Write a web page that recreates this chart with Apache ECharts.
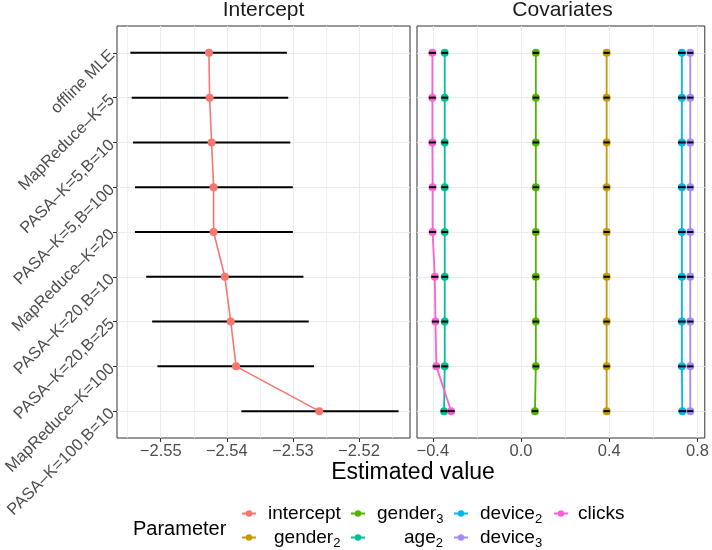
<!DOCTYPE html>
<html><head><meta charset="utf-8">
<script src="https://cdn.jsdelivr.net/npm/echarts@6/dist/echarts.min.js"></script>
<style>html,body{margin:0;padding:0;background:#fff}#c{width:712px;height:550px}</style>
</head><body><div id="c"></div>
<script>
// ---- data ----
const methods = ['offline MLE','MapReduce–K=5','PASA–K=5,B=10','PASA–K=5,B=100','MapReduce–K=20','PASA–K=20,B=10','PASA–K=20,B=25','MapReduce–K=100','PASA–K=100,B=10'];
const rows = [1,2,3,4,5,6,7,8,9];
const interceptEst = [-2.5427,-2.5426,-2.5423,-2.5420,-2.5420,-2.5403,-2.5394,-2.5386,-2.5260];
const interceptLo  = [-2.5546,-2.5544,-2.5542,-2.5539,-2.5539,-2.5522,-2.5513,-2.5505,-2.5378];
const interceptHi  = [-2.5309,-2.5307,-2.5304,-2.5300,-2.5300,-2.5284,-2.5276,-2.5268,-2.5140];
const gender2Est = [0.388,0.388,0.388,0.388,0.388,0.388,0.388,0.388,0.388];
const gender3Est = [0.067,0.067,0.067,0.067,0.067,0.067,0.067,0.067,0.063];
const age2Est    = [-0.346,-0.346,-0.346,-0.346,-0.346,-0.346,-0.346,-0.346,-0.349];
const device2Est = [0.729,0.729,0.729,0.729,0.729,0.729,0.729,0.729,0.731];
const device3Est = [0.767,0.767,0.767,0.767,0.767,0.767,0.767,0.767,0.767];
const clicksEst  = [-0.402,-0.402,-0.402,-0.401,-0.401,-0.391,-0.388,-0.384,-0.317];
// half-widths of the (tiny) confidence intervals of the covariates
const covHalfWidth = {gender2:0.014, gender3:0.014, age2:0.015, device2:0.017, device3:0.014, clicks:0.016};
const leftTicks  = [-2.55,-2.54,-2.53,-2.52];
const leftMinor  = [-2.555,-2.545,-2.535,-2.525,-2.515];
const rightTicks = [-0.4,0.0,0.4,0.8];
const rightMinor = [-0.2,0.2,0.6];

const colors = {intercept:'#F8766D', gender2:'#C49A00', gender3:'#53B400', age2:'#00C094', device2:'#00B6EB', device3:'#A58AFF', clicks:'#FB61D7'};
const covariates = [
  ['gender2', gender2Est], ['gender3', gender3Est], ['age2', age2Est],
  ['device2', device2Est], ['device3', device3Est], ['clicks', clicksEst]
];

function fmtNum(d){ return v => (v < 0 ? '\u2212' : '') + Math.abs(v).toFixed(d); }
function renderBar(params, api){
  const y = api.value(2);
  const a = api.coord([api.value(0), y]);
  const b = api.coord([api.value(1), y]);
  return {type:'line', shape:{x1:a[0], y1:a[1], x2:b[0], y2:b[1]}, style:{stroke:'#000', lineWidth:2}};
}

const gridLine = {show:true, lineStyle:{color:'#EBEBEB', width:1}};
const minorLine = {show:true, lineStyle:{color:'#EDEDED', width:0.8}};
const tickStyle = {length:4, lineStyle:{color:'#333333', width:1}};
const labelStyle = {fontSize:16.5, color:'#4D4D4D', fontFamily:'Liberation Sans, Arial, sans-serif'};

function xAxes(grid, min, max, ticks, minor, dec){
  return [
    {type:'value', gridIndex:grid, min:min, max:max, position:'bottom',
     axisLine:{show:false},
     axisTick:Object.assign({show:true, customValues:ticks}, tickStyle),
     axisLabel:Object.assign({customValues:ticks, formatter:fmtNum(dec), margin:5}, labelStyle),
     splitLine:gridLine},
    {type:'value', gridIndex:grid, min:min, max:max, position:'top',
     axisLine:{show:false}, axisTick:{show:false, customValues:minor},
     axisLabel:{show:false, customValues:minor}, splitLine:minorLine}
  ];
}

const series = [];
series.push({type:'custom', name:'intercept CI', xAxisIndex:0, yAxisIndex:0, z:1,
  renderItem:renderBar, encode:{x:[0,1], y:2}, silent:true,
  data: rows.map((r,i)=>[interceptLo[i], interceptHi[i], r])});
series.push({type:'line', name:'intercept', xAxisIndex:0, yAxisIndex:0, z:3,
  symbol:'circle', symbolSize:8, color:colors.intercept, lineStyle:{width:1.6},
  data: rows.map((r,i)=>[interceptEst[i], r])});
covariates.forEach(([name, vals])=>{
  series.push({type:'line', name:name, xAxisIndex:2, yAxisIndex:1, z:2,
    symbol:'circle', symbolSize:8, color:colors[name], lineStyle:{width:1.8},
    data: rows.map((r,i)=>[vals[i], r])});
  series.push({type:'custom', name:name+' CI', xAxisIndex:2, yAxisIndex:1, z:4,
    renderItem:renderBar, encode:{x:[0,1], y:2}, silent:true,
    data: rows.map((r,i)=>[vals[i]-covHalfWidth[name], vals[i]+covHalfWidth[name], r])});
});

const legendLabels = {
  intercept:'{t0|intercept}', gender2:'{t1|gender}{s|2}', gender3:'{t0|gender}{s|3}',
  age2:'{t2|age}{s|2}', device2:'{t0|device}{s|2}', device3:'{t0|device}{s|3}', clicks:'{t3|clicks}'
};
const legendPos = [
  ['intercept',241,504], ['gender2',241,528], ['gender3',350,504], ['age2',350,528],
  ['device2',453,504], ['device3',453,528], ['clicks',553,504]
];
const richBase = {fontSize:19, color:'#000', lineHeight:24, fontFamily:'Liberation Sans, Arial, sans-serif'};
const legends = legendPos.map(([n,x,y])=>({
  show:true, data:[n], left:x, top:y, orient:'horizontal', padding:0,
  itemWidth:14, itemHeight:8, selectedMode:false,
  formatter: name => legendLabels[name],
  textStyle:{fontSize:19, color:'#000', rich:{
    t0:Object.assign({padding:[0,0,0,7]}, richBase),
    t1:Object.assign({padding:[0,0,0,13]}, richBase),
    t2:Object.assign({padding:[0,0,0,34]}, richBase),
    t3:Object.assign({padding:[0,0,0,5]}, richBase),
    s:{fontSize:13, color:'#000', verticalAlign:'bottom', lineHeight:14, fontFamily:'Liberation Sans, Arial, sans-serif'}
  }}
}));

const titleFont = {fontWeight:'normal', fontFamily:'Liberation Sans, Arial, sans-serif'};
const option = {
  animation:false,
  backgroundColor:'#fff',
  title:[
    {text:'Intercept', left:263.5, top:-2, padding:0, textAlign:'center', textStyle:Object.assign({fontSize:21, color:'#1A1A1A', lineHeight:24}, titleFont)},
    {text:'Covariates', left:562.5, top:-2, padding:0, textAlign:'center', textStyle:Object.assign({fontSize:21, color:'#1A1A1A', lineHeight:24}, titleFont)},
    {text:'Estimated value', left:413, top:460, padding:0, textAlign:'center', textStyle:Object.assign({fontSize:23, color:'#000', lineHeight:26}, titleFont)},
    {text:'Parameter', left:133, top:517, padding:0, textStyle:Object.assign({fontSize:20, color:'#000', lineHeight:24}, titleFont)}
  ],
  legend: legends,
  grid:[
    {left:117, top:26, width:293, height:412, show:true, borderColor:'#333333', borderWidth:1, backgroundColor:'transparent'},
    {left:417, top:26, width:291, height:412, show:true, borderColor:'#333333', borderWidth:1, backgroundColor:'transparent'}
  ],
  xAxis:[].concat(
    xAxes(0, -2.55662, -2.51227, leftTicks, leftMinor, 2),
    xAxes(1, -0.47165, 0.8329, rightTicks, rightMinor, 1)
  ),
  yAxis:[
    {type:'value', gridIndex:0, min:0.4, max:9.6, inverse:true,
     axisLine:{show:false},
     axisTick:Object.assign({show:true, customValues:rows}, tickStyle),
     axisLabel:Object.assign({customValues:rows, formatter:v=>methods[Math.round(v)-1], rotate:45, margin:5}, labelStyle),
     splitLine:gridLine},
    {type:'value', gridIndex:1, min:0.4, max:9.6, inverse:true,
     axisLine:{show:false}, axisTick:{show:false, customValues:rows},
     axisLabel:{show:false, customValues:rows}, splitLine:gridLine}
  ],
  series: series
};
const chart = echarts.init(document.getElementById('c'), null, {renderer:'canvas'});
chart.setOption(option);
</script>
</body></html>
